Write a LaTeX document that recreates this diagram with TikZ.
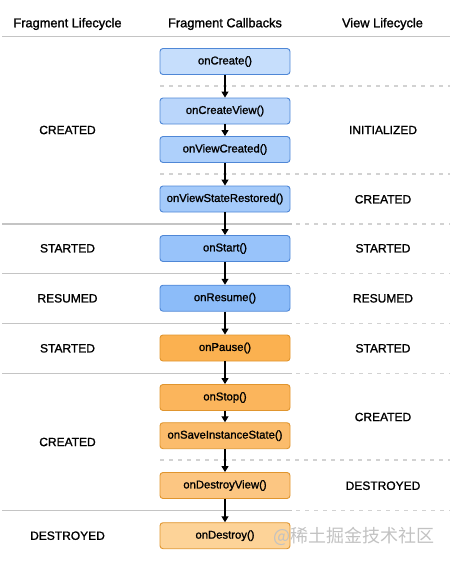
\documentclass[tikz,border=0pt]{standalone}
\usepackage{fontspec}
\setmainfont{Liberation Sans}[FakeBold=1.3]
\newfontfamily\cjk{Noto Sans CJK SC}
\usetikzlibrary{arrows.meta}
\definecolor{bA}{HTML}{C6DEFC}
\definecolor{bB}{HTML}{BAD6FB}
\definecolor{bC}{HTML}{AED0FB}
\definecolor{bD}{HTML}{A4CAFA}
\definecolor{bE}{HTML}{98C3FA}
\definecolor{bF}{HTML}{8CBCF9}
\definecolor{bline}{HTML}{4F87D6}
\definecolor{oA}{HTML}{FBB150}
\definecolor{oB}{HTML}{FBB55C}
\definecolor{oC}{HTML}{FBBC6C}
\definecolor{oD}{HTML}{FCC682}
\definecolor{oE}{HTML}{FDD398}
\definecolor{oline}{HTML}{E0952E}
\definecolor{sep}{HTML}{C4C4C4}
\definecolor{dsep}{HTML}{D2D2D2}
\tikzset{
  cb/.style={draw, rounded corners=3pt, minimum width=130pt, minimum height=26pt,
    line width=0.9pt, inner sep=0pt, font=\fontsize{11.3}{13}\selectfont},
  bluebox/.style={cb, draw=bline},
  orangebox/.style={cb, draw=oline},
  lbl/.style={font=\fontsize{12}{14}\selectfont, inner sep=0pt},
  hdr/.style={font=\fontsize{12.8}{15}\selectfont, inner sep=0pt},
  arr/.style={-{Triangle[width=7pt,length=6pt]}, line width=1.1pt, black},
  solidsep/.style={draw=sep, line width=1.3pt},
  dashsep/.style={draw=dsep, line width=1.1pt, dash pattern=on 4pt off 5pt},
}
\begin{document}
\begin{tikzpicture}[x=1pt, y=-1pt]
\useasboundingbox (0,0) rectangle (450,563);
% headers
\node[hdr] (h1) at (67.5,24) {Fragment Lifecycle};
\node[hdr] (h2) at (225,24) {Fragment Callbacks};
\node[hdr] (h3) at (382.5,24) {View Lifecycle};
\draw[solidsep] (2,36.5) -- (450,36.5);
% separators
\foreach \yy in {86,174,460} {\draw[dashsep] (160,\yy) -- (450,\yy);}
\foreach \yy in {224,273.5,323.3,373.3,510.5} {
  \draw[solidsep] (2,\yy) -- (292,\yy);
  \draw[dashsep] (296,\yy) -- (450,\yy);
}
% boxes
\node[bluebox, fill=bA] (c1) at (225,61.5) {onCreate()};
\node[bluebox, fill=bB] (c2) at (225,111) {onCreateView()};
\node[bluebox, fill=bC] (c3) at (225,149.5) {onViewCreated()};
\node[bluebox, fill=bD] (c4) at (225,199) {onViewStateRestored()};
\node[bluebox, fill=bE] (c5) at (225,248.5) {onStart()};
\node[bluebox, fill=bF] (c6) at (225,298.2) {onResume()};
\node[orangebox, fill=oA] (c7) at (225,348) {onPause()};
\node[orangebox, fill=oB] (c8) at (225,397.5) {onStop()};
\node[orangebox, fill=oC] (c9) at (225,435.7) {onSaveInstanceState()};
\node[orangebox, fill=oD] (c10) at (225,485.5) {onDestroyView()};
\node[orangebox, fill=oE] (c11) at (225,535.7) {onDestroy()};
% arrows
\draw[arr] (c1.south) -- (c2.north);
\draw[arr] (c2.south) -- (c3.north);
\draw[arr] (c3.south) -- (c4.north);
\draw[arr] (c4.south) -- (c5.north);
\draw[arr] (c5.south) -- (c6.north);
\draw[arr] (c6.south) -- (c7.north);
\draw[arr] (c7.south) -- (c8.north);
\draw[arr] (c8.south) -- (c9.north);
\draw[arr] (c9.south) -- (c10.north);
\draw[arr] (c10.south) -- (c11.north);
% left labels
\node[lbl] (l1) at (67.5,130) {CREATED};
\node[lbl] (l2) at (67.5,248.3) {STARTED};
\node[lbl] (l3) at (67.5,298.3) {RESUMED};
\node[lbl] (l4) at (67.5,348.3) {STARTED};
\node[lbl] (l5) at (67.5,442) {CREATED};
\node[lbl] (l6) at (67.5,535.7) {DESTROYED};
% right labels
\node[lbl] (r1) at (383,130) {INITIALIZED};
\node[lbl] (r2) at (383,199.3) {CREATED};
\node[lbl] (r3) at (383,248.3) {STARTED};
\node[lbl] (r4) at (383,298.3) {RESUMED};
\node[lbl] (r5) at (383,348.3) {STARTED};
\node[lbl] (r6) at (383,417) {CREATED};
\node[lbl] (r7) at (383,485.7) {DESTROYED};
% watermark
\node[inner sep=0pt, anchor=west, text=black!24, font=\cjk\fontsize{18}{20}\selectfont] (wm) at (273,536) {@稀土掘金技术社区};
\end{tikzpicture}
\end{document}
